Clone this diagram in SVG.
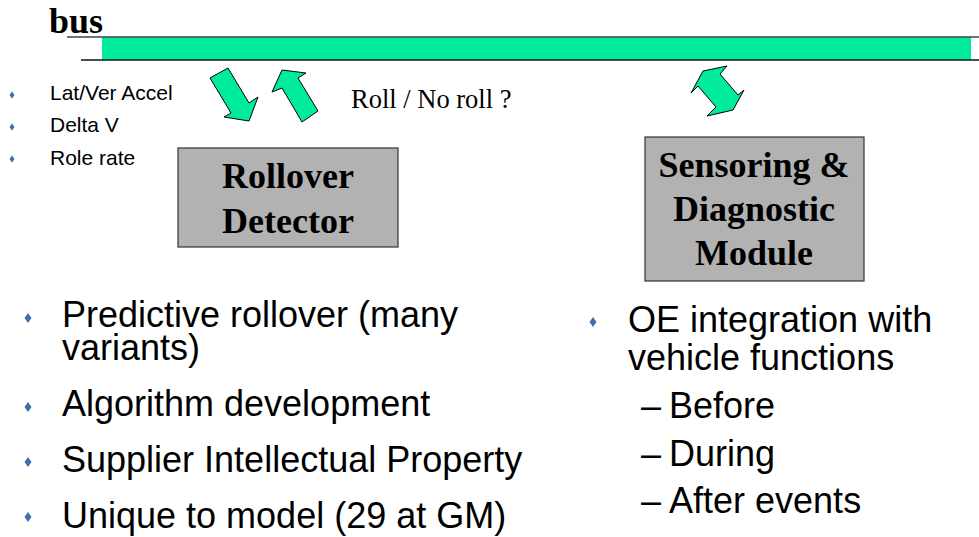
<svg xmlns="http://www.w3.org/2000/svg" width="979" height="537" viewBox="0 0 979 537">
<style>
.serifb{font-family:"Liberation Serif","Times New Roman",serif;font-weight:bold;fill:#000}
.serif{font-family:"Liberation Serif","Times New Roman",serif;fill:#000}
.sans{font-family:"Liberation Sans",Arial,sans-serif;fill:#000}
.box{fill:#b2b2b2;stroke:#333;stroke-width:1.2}
.arrow{fill:#00ec9c;stroke:#000;stroke-width:1;stroke-linejoin:miter}
.dia{fill:#3f6fa8}
</style>
<defs>
<path id="dsmall" d="M0,-3.5 L2.5,0 L0,3.5 L-2.5,0 Z"/>
<path id="dbig" d="M0,-5 L3.5,0 L0,5 L-3.5,0 Z"/>
</defs>
<rect width="979" height="537" fill="#fff"/>
<g id="bus">
<rect x="102" y="37" width="869" height="23" fill="#00ec9c"/>
<line x1="67" y1="37" x2="979" y2="37" stroke="#444" stroke-width="1.5"/>
<line x1="81" y1="60" x2="979" y2="60" stroke="#111" stroke-width="1.5"/>
<text class="serifb" x="49" y="33" font-size="36">bus</text>
</g>
<g id="inputs">
<use href="#dsmall" x="12" y="95" class="dia"/>
<use href="#dsmall" x="12" y="127" class="dia"/>
<use href="#dsmall" x="12" y="159" class="dia"/>
<text class="sans" x="50" y="100" font-size="21">Lat/Ver Accel</text>
<text class="sans" x="50" y="132" font-size="21">Delta V</text>
<text class="sans" x="50" y="165" font-size="21">Role rate</text>
</g>
<g id="connectors">
<polygon class="arrow" points="210,78 228,68 249,103 258,97 249,121 224,117 231,113"/>
<polygon class="arrow" points="282,70 306,73 298,78 318,111 302,122 282,88 272,92"/>
<polygon class="arrow" points="703,71 727,66 720,74 738,95 744,90 733,110 707,116 716,107 698,86 691,93"/>
</g>
<g id="roll-label">
<text class="serif" x="351" y="108" font-size="26.5">Roll / No roll ?</text>
</g>
<g id="rollover-detector">
<rect class="box" x="178" y="148" width="220" height="99"/>
<text class="serifb" x="288" y="188" font-size="36" text-anchor="middle">Rollover</text>
<text class="serifb" x="288" y="233" font-size="36" text-anchor="middle">Detector</text>
</g>
<g id="sensoring-module">
<rect class="box" x="645" y="137" width="219" height="144"/>
<text class="serifb" x="754" y="177" font-size="36" text-anchor="middle">Sensoring &amp;</text>
<text class="serifb" x="754" y="221" font-size="36" text-anchor="middle">Diagnostic</text>
<text class="serifb" x="754" y="265" font-size="36" text-anchor="middle">Module</text>
</g>
<g id="left-list">
<use href="#dbig" x="28" y="318" class="dia"/>
<use href="#dbig" x="28" y="407" class="dia"/>
<use href="#dbig" x="28" y="462" class="dia"/>
<use href="#dbig" x="28" y="517" class="dia"/>
<text class="sans" x="62" y="327" font-size="36">Predictive rollover (many</text>
<text class="sans" x="62" y="360" font-size="36">variants)</text>
<text class="sans" x="62" y="416" font-size="36">Algorithm development</text>
<text class="sans" x="62" y="472" font-size="36">Supplier Intellectual Property</text>
<text class="sans" x="62" y="528" font-size="36">Unique to model (29 at GM)</text>
</g>
<g id="right-list">
<use href="#dbig" x="593" y="322" class="dia"/>
<text class="sans" x="628" y="332" font-size="36">OE integration with</text>
<text class="sans" x="628" y="370" font-size="36">vehicle functions</text>
<text class="sans" x="641" y="418" font-size="36">–<tspan dx="8">Before</tspan></text>
<text class="sans" x="641" y="466" font-size="36">–<tspan dx="8">During</tspan></text>
<text class="sans" x="641" y="513" font-size="36">–<tspan dx="8">After events</tspan></text>
</g>
</svg>
